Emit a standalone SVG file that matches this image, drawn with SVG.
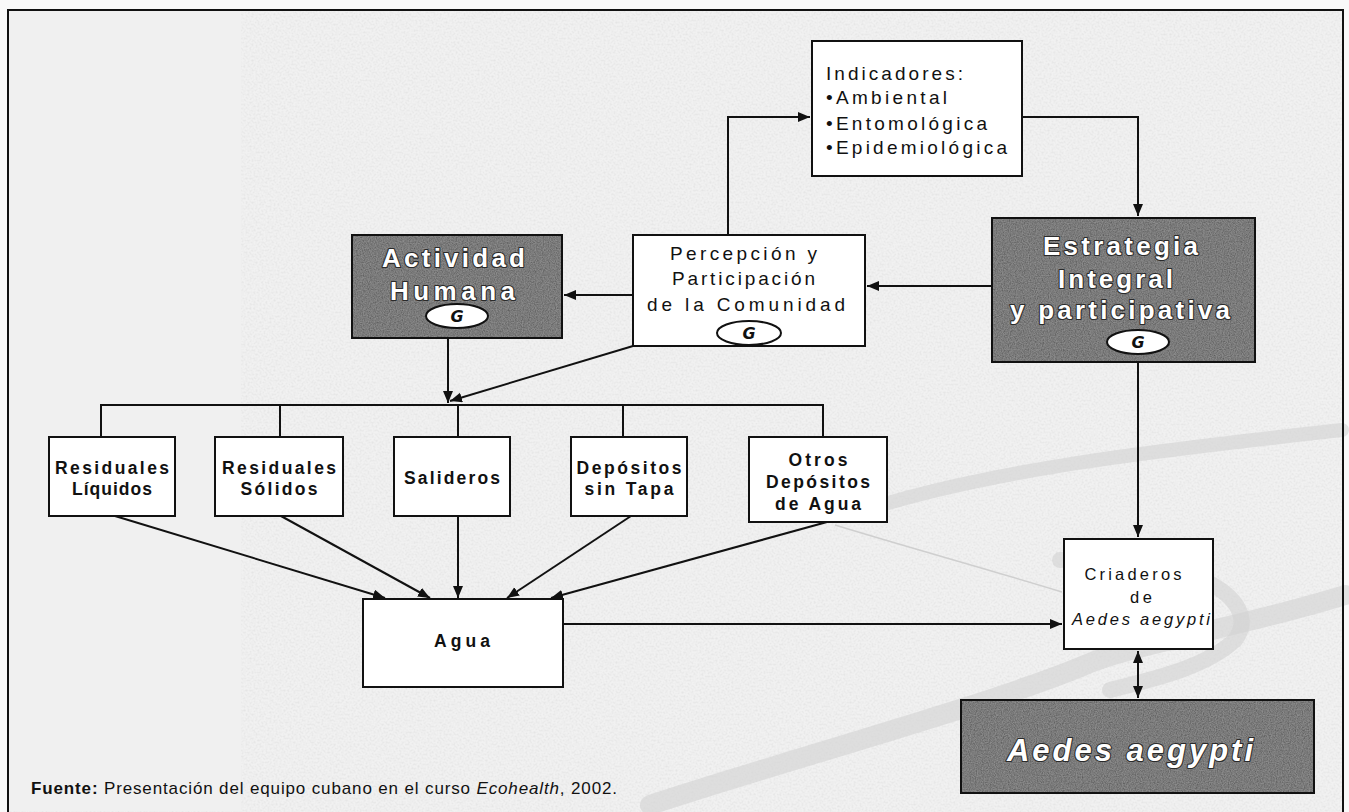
<svg xmlns="http://www.w3.org/2000/svg" width="1349" height="812" viewBox="0 0 1349 812">
<defs>
<style>
.box{fill:#ffffff;stroke:#111;stroke-width:2}
.dark{fill:#8c8c8c}
.edge{fill:none;stroke:#111;stroke-width:2}
.t{font-family:"Liberation Sans",Arial,sans-serif;fill:#111}
.tb{font-family:"Liberation Sans",Arial,sans-serif;font-weight:bold;fill:#111;font-size:17.5px}
.wt{font-family:"Liberation Sans",Arial,sans-serif;font-weight:bold;fill:#fff;stroke:#2a2a2a;stroke-width:2.2;paint-order:stroke;stroke-linejoin:round}
.g{fill:#fff;stroke:#111;stroke-width:2}
.gt{font-family:"DejaVu Sans",sans-serif;font-style:italic;font-weight:bold;font-size:16px;fill:#111}
.c{fill:none;stroke:#111;stroke-width:2}
.sw{fill:none;stroke:#d2d2d2;stroke-linecap:round;stroke-opacity:0.6}
</style>
<marker id="ah" markerUnits="userSpaceOnUse" markerWidth="13" markerHeight="11" refX="12" refY="5" orient="auto-start-reverse">
<path d="M0,0 L12,5 L0,10 z" fill="#111"/>
</marker>
<filter id="grain" x="0" y="0" width="100%" height="100%">
<feTurbulence type="fractalNoise" baseFrequency="0.85" numOctaves="2" seed="3" result="n"/>
<feColorMatrix in="n" type="matrix" values="0.9 0 0 0 0.3  0.9 0 0 0 0.3  0.9 0 0 0 0.3  0 0 0 0 1" result="d"/>
<feBlend in="SourceGraphic" in2="d" mode="multiply" result="b"/>
<feComposite in="b" in2="SourceGraphic" operator="in"/>
</filter>
<filter id="bgrain" x="0" y="0" width="100%" height="100%">
<feTurbulence type="fractalNoise" baseFrequency="0.5" numOctaves="2" seed="7" result="n"/>
<feColorMatrix in="n" type="matrix" values="0.25 0 0 0 0.85  0.25 0 0 0 0.85  0.25 0 0 0 0.85  0 0 0 0 1" result="d"/>
<feBlend in="SourceGraphic" in2="d" mode="multiply" result="b"/>
<feComposite in="b" in2="SourceGraphic" operator="in"/>
</filter>
</defs>

<g id="background">
<rect x="0" y="0" width="1349" height="812" fill="#f9f9f9"/>
<rect x="8" y="10" width="1335" height="820" fill="#f1f1f1" filter="url(#bgrain)"/>
<rect x="9" y="11" width="232" height="800" fill="#f0f0f0"/>
<path class="sw" stroke-width="14" d="M850 515 C 980 470, 1160 450, 1342 430"/>
<path class="sw" stroke-width="20" d="M1345 595 C 1250 625, 1130 645, 1085 665 C 990 705, 770 765, 650 805"/>
<path class="sw" stroke-width="16" d="M1060 560 C 1190 552, 1265 600, 1235 640 C 1205 668, 1150 680, 1110 690"/>
<path fill="none" stroke="#cfcfcf" stroke-width="1.5" d="M835 525 C 900 545, 990 570, 1062 592"/>
</g>

<rect id="frame" x="8" y="10" width="1335" height="820" fill="none" stroke="#111" stroke-width="2"/>

<g id="connectors">
<path class="c" d="M728 235 V117 H810" marker-end="url(#ah)"/>
<path class="c" d="M1022 117 H1138 V216" marker-end="url(#ah)"/>
<path class="c" d="M992 286 H867" marker-end="url(#ah)"/>
<path class="c" d="M633 295 H564" marker-end="url(#ah)"/>
<path class="c" d="M448 338 V403" marker-end="url(#ah)"/>
<path class="c" d="M633 346 L450 401" marker-end="url(#ah)"/>
<path class="c" d="M101 437 V405 H823 V437 M280 405 V437 M458 405 V437 M623 405 V437"/>
<path class="c" d="M115 516 L385 598" marker-end="url(#ah)"/>
<path class="c" d="M281 516 L430 598" marker-end="url(#ah)"/>
<path class="c" d="M458 516 V598" marker-end="url(#ah)"/>
<path class="c" d="M631 516 L507 598" marker-end="url(#ah)"/>
<path class="c" d="M827 522 L551 598" marker-end="url(#ah)"/>
<path class="c" d="M563 624 H1062" marker-end="url(#ah)"/>
<path class="c" d="M1138 362 V537" marker-end="url(#ah)"/>
<path class="c" d="M1138 651 V698" marker-start="url(#ah)" marker-end="url(#ah)"/>
</g>

<g id="indicadores">
<rect class="box" x="812" y="41" width="210" height="135"/>
<text class="t" font-size="19" x="826" y="80" textLength="137" lengthAdjust="spacing">Indicadores:</text>
<text class="t" font-size="19" x="826" y="104" textLength="121" lengthAdjust="spacing">•Ambiental</text>
<text class="t" font-size="19" x="826" y="130" textLength="161" lengthAdjust="spacing">•Entomológica</text>
<text class="t" font-size="19" x="826" y="154" textLength="181" lengthAdjust="spacing">•Epidemiológica</text>
</g>

<g id="percepcion">
<rect class="box" x="633" y="235" width="232" height="111"/>
<text class="t" font-size="19" x="670" y="260" textLength="147" lengthAdjust="spacing">Percepción y</text>
<text class="t" font-size="19" x="672" y="285" textLength="143" lengthAdjust="spacing">Participación</text>
<text class="t" font-size="19" x="647" y="311" textLength="198" lengthAdjust="spacing">de  la Comunidad</text>
<ellipse class="g" cx="749" cy="333" rx="32" ry="12"/>
<text class="gt" x="749" y="339" text-anchor="middle">G</text>
</g>

<g id="actividad">
<rect class="dark" x="352" y="235" width="210" height="103" filter="url(#grain)"/>
<rect class="edge" x="352" y="235" width="210" height="103"/>
<text class="wt" font-size="26" x="382" y="267" textLength="143" lengthAdjust="spacing">Actividad</text>
<text class="wt" font-size="26" x="390" y="300" textLength="125" lengthAdjust="spacing">Humana</text>
<ellipse class="g" cx="457" cy="316" rx="31" ry="12"/>
<text class="gt" x="457" y="322" text-anchor="middle">G</text>
</g>

<g id="estrategia">
<rect class="dark" x="992" y="218" width="263" height="144" filter="url(#grain)"/>
<rect class="edge" x="992" y="218" width="263" height="144"/>
<text class="wt" font-size="26" x="1043" y="255" textLength="155" lengthAdjust="spacing">Estrategia</text>
<text class="wt" font-size="26" x="1058" y="288" textLength="115" lengthAdjust="spacing">Integral</text>
<text class="wt" font-size="26" x="1010" y="319" textLength="220" lengthAdjust="spacing">y participativa</text>
<ellipse class="g" cx="1138" cy="342" rx="31" ry="12"/>
<text class="gt" x="1138" y="348" text-anchor="middle">G</text>
</g>

<g id="residuales-liquidos">
<rect class="box" x="49" y="437" width="126" height="79"/>
<text class="tb" x="112" y="474" text-anchor="middle" textLength="114" lengthAdjust="spacing">Residuales</text>
<text class="tb" x="112" y="495" text-anchor="middle" textLength="80" lengthAdjust="spacing">Líquidos</text>
</g>

<g id="residuales-solidos">
<rect class="box" x="215" y="437" width="128" height="79"/>
<text class="tb" x="279" y="474" text-anchor="middle" textLength="114" lengthAdjust="spacing">Residuales</text>
<text class="tb" x="279" y="495" text-anchor="middle" textLength="77" lengthAdjust="spacing">Sólidos</text>
</g>

<g id="salideros">
<rect class="box" x="394" y="437" width="116" height="79"/>
<text class="tb" x="452" y="484" text-anchor="middle" textLength="96" lengthAdjust="spacing">Salideros</text>
</g>

<g id="depositos-sin-tapa">
<rect class="box" x="571" y="437" width="116" height="79"/>
<text class="tb" x="629" y="474" text-anchor="middle" textLength="105" lengthAdjust="spacing">Depósitos</text>
<text class="tb" x="629" y="495" text-anchor="middle" textLength="89" lengthAdjust="spacing">sin Tapa</text>
</g>

<g id="otros-depositos">
<rect class="box" x="749" y="437" width="138" height="85"/>
<text class="tb" x="818" y="466" text-anchor="middle" textLength="59" lengthAdjust="spacing">Otros</text>
<text class="tb" x="818" y="488" text-anchor="middle" textLength="104" lengthAdjust="spacing">Depósitos</text>
<text class="tb" x="818" y="510" text-anchor="middle" textLength="86" lengthAdjust="spacing">de Agua</text>
</g>

<g id="agua">
<rect class="box" x="363" y="599" width="200" height="88"/>
<text class="tb" x="462" y="647" text-anchor="middle" textLength="56" lengthAdjust="spacing">Agua</text>
</g>

<g id="criaderos">
<rect class="box" x="1064" y="539" width="149" height="110"/>
<text class="t" font-size="16.5" x="1133" y="580" text-anchor="middle" textLength="97" lengthAdjust="spacing">Criaderos</text>
<text class="t" font-size="16.5" x="1141" y="603" text-anchor="middle" textLength="22" lengthAdjust="spacing">de</text>
<text class="t" font-size="16.5" font-style="italic" x="1141" y="625" text-anchor="middle" textLength="138" lengthAdjust="spacing">Aedes aegypti</text>
</g>

<g id="aedes">
<rect class="dark" x="961" y="700" width="353" height="93" filter="url(#grain)"/>
<rect class="edge" x="961" y="700" width="353" height="93"/>
<text class="wt" font-size="31" font-style="italic" x="1007" y="761" textLength="246" lengthAdjust="spacing">Aedes aegypti</text>
</g>

<text id="fuente" class="t" font-size="17" x="31" y="794" textLength="586" lengthAdjust="spacing"><tspan font-weight="bold">Fuente:</tspan> Presentación del equipo cubano en el curso <tspan font-style="italic">Ecohealth</tspan>, 2002.</text>
</svg>
